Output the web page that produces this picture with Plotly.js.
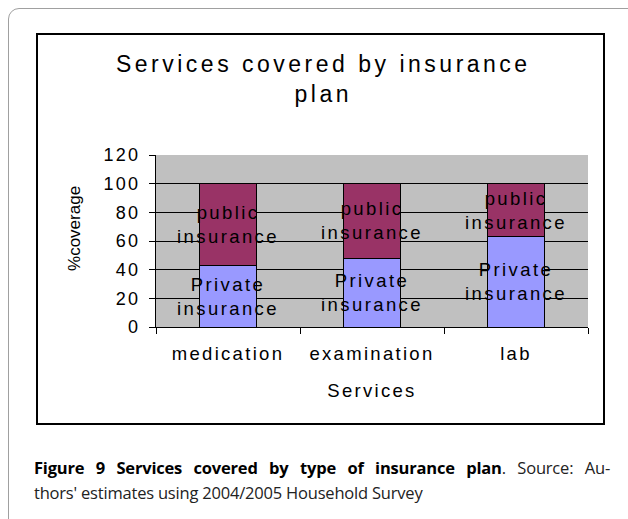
<!DOCTYPE html>
<html>
<head>
<meta charset="utf-8">
<script src="https://cdn.plot.ly/plotly-3.0.1.min.js"></script>
<style>
  html, body { margin: 0; padding: 0; background: #fff; width: 628px; height: 519px; overflow: hidden; }
  #frame { position: absolute; left: 8px; top: 8px; width: 700px; height: 600px;
           border: 1.5px solid #a0a0a0; border-radius: 11px; box-sizing: border-box; }
  #box { position: absolute; left: 36px; top: 33px; width: 569px; height: 392px;
         border: 2px solid #000; box-sizing: border-box; background: #fff; }
  #chart { width: 565px; height: 388px; }
  #caption { position: absolute; left: 34px; top: 455px; font-family: "Open Sans", "Noto Sans", sans-serif;
             font-size: 16.5px; line-height: 25px; color: #222; letter-spacing: -0.2px; }
  #caption .l1 { width: 576px; white-space: nowrap; text-align: justify; text-align-last: justify; }
  #caption .l2 { white-space: nowrap; }
  #caption b { color: #000; }
  #chart .gtitle { letter-spacing: 3.5px; }
  #chart .xtick text, #chart .ytick text, #chart .xtitle { letter-spacing: 2.3px; }
  #chart text.bartext { letter-spacing: 2.4px; }
</style>
</head>
<body>
<div id="frame"></div>
<div id="box"><div id="chart"></div></div>
<div id="caption"><div class="l1"><b>Figure 9 Services covered by type of insurance plan</b>. Source: Au-</div><div class="l2">thors' estimates using 2004/2005 Household Survey</div></div>
<script>
const categories = ['medication', 'examination', 'lab'];
const privateCoverage = [43, 48, 63];
const publicCoverage = [57, 52, 37];
const privateLabel = 'Private<br>insurance';
const publicLabel = 'public<br>insurance';
const yTickVals = [0, 20, 40, 60, 80, 100, 120];

const FONT = '"Liberation Sans", Arial, sans-serif';

const common = {
  type: 'bar',
  x: categories,
  width: 0.39,
  textposition: 'inside',
  insidetextanchor: 'middle',
  constraintext: 'none',
  textangle: 0,
  cliponaxis: false,
  insidetextfont: { family: FONT, size: 18.5, color: '#000' },
  hoverinfo: 'skip'
};

const traces = [
  Object.assign({}, common, {
    name: 'Private insurance',
    y: privateCoverage,
    text: categories.map(() => privateLabel),
    texttemplate: '%{text}',
    marker: { color: '#9999ff', line: { color: '#000', width: 1 } }
  }),
  Object.assign({}, common, {
    name: 'public insurance',
    y: publicCoverage,
    text: categories.map(() => publicLabel),
    texttemplate: '%{text}',
    marker: { color: '#993366', line: { color: '#000', width: 1 } }
  })
];

const layout = {
  width: 565,
  height: 388,
  margin: { l: 118, r: 15, t: 120, b: 96 },
  paper_bgcolor: '#fff',
  plot_bgcolor: '#c0c0c0',
  barmode: 'stack',
  showlegend: false,
  font: { family: FONT, color: '#000' },
  title: {
    text: 'Services covered by insurance<br>plan',
    font: { family: FONT, size: 23, color: '#000' },
    x: 0.505, xanchor: 'center',
    xref: 'container',
    y: 0.905, yanchor: 'top', yref: 'container'
  },
  xaxis: {
    type: 'category',
    showline: true, linecolor: '#000', linewidth: 1,
    ticks: 'outside', tickson: 'boundaries', ticklen: 6, tickcolor: '#000',
    ticklabelstandoff: 10,
    tickfont: { family: FONT, size: 18.5, color: '#000' },
    showgrid: false,
    title: { text: 'Services', font: { family: FONT, size: 18.5, color: '#000' }, standoff: 20 }
  },
  yaxis: {
    range: [0, 120],
    tickvals: yTickVals,
    showline: true, linecolor: '#000', linewidth: 1,
    ticks: 'outside', ticklen: 6, tickcolor: '#000',
    ticklabelstandoff: 5,
    tickfont: { family: FONT, size: 18, color: '#000' },
    showgrid: true, gridcolor: '#000', gridwidth: 1,
    zeroline: false
  },
  annotations: [{
    text: '%coverage',
    xref: 'paper', yref: 'paper',
    x: 0, xshift: -81, xanchor: 'center',
    y: 0.57, yanchor: 'middle',
    textangle: -90,
    showarrow: false,
    font: { family: FONT, size: 17, color: '#000' }
  }]
};

Plotly.newPlot('chart', traces, layout, { displayModeBar: false, staticPlot: true });
</script>
</body>
</html>
